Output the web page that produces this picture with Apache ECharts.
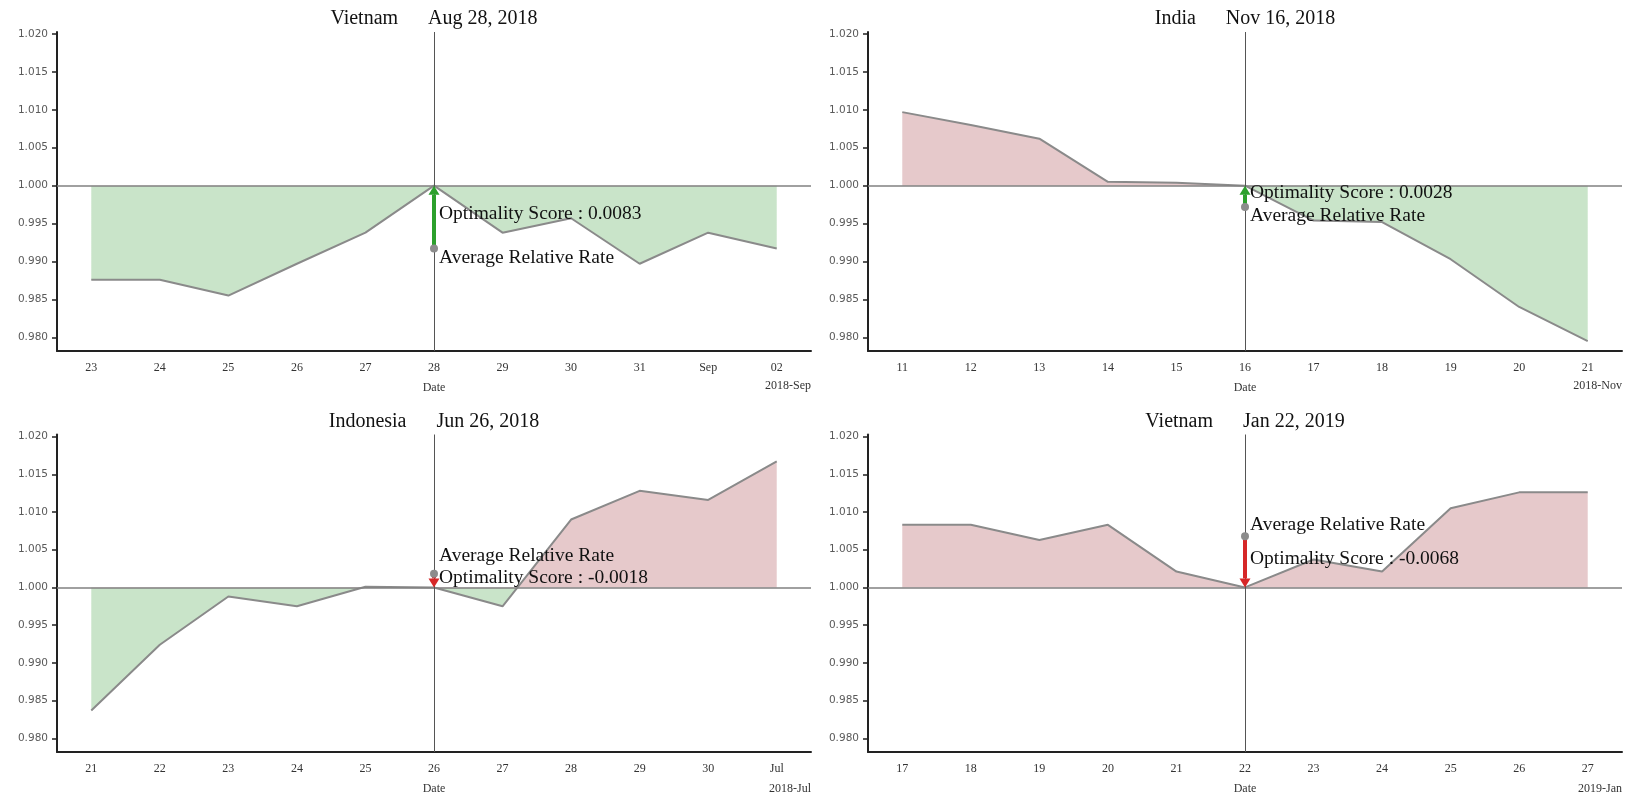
<!DOCTYPE html>
<html>
<head>
<meta charset="utf-8">
<script src="https://cdn.jsdelivr.net/npm/echarts@6/dist/echarts.min.js"></script>
<style>
  html, body { margin: 0; padding: 0; background: #ffffff; }
  #chart { width: 1630px; height: 796px; }
</style>
</head>
<body>
<div id="chart"></div>
<script>
// Relative exchange rate around each event date (event date = 1.000)
const vnAugDates = ['23', '24', '25', '26', '27', '28', '29', '30', '31', 'Sep', '02'];
const vnAugRates = [0.9876, 0.9876, 0.9855, 0.9897, 0.9938, 1.0000, 0.9938, 0.9957, 0.9897, 0.9938, 0.9917];

const inNovDates = ['11', '12', '13', '14', '15', '16', '17', '18', '19', '20', '21'];
const inNovRates = [1.0097, 1.0080, 1.0062, 1.0005, 1.0004, 1.0000, 0.9954, 0.9952, 0.9903, 0.9840, 0.9795];

const idJunDates = ['21', '22', '23', '24', '25', '26', '27', '28', '29', '30', 'Jul'];
const idJunRates = [0.9837, 0.9924, 0.9988, 0.9975, 1.0001, 1.0000, 0.9975, 1.0090, 1.0128, 1.0116, 1.0167];

const vnJanDates = ['17', '18', '19', '20', '21', '22', '23', '24', '25', '26', '27'];
const vnJanRates = [1.0083, 1.0083, 1.0063, 1.0083, 1.0021, 1.0000, 1.0037, 1.0021, 1.0105, 1.0126, 1.0126];

const countries = ['Vietnam', 'India', 'Indonesia', 'Vietnam'];
const eventTitles = ['Aug 28, 2018', 'Nov 16, 2018', 'Jun 26, 2018', 'Jan 22, 2019'];
const eventDates = ['28', '16', '26', '22'];
const periodLabels = ['2018-Sep', '2018-Nov', '2018-Jul', '2019-Jan'];
const optimalityScores = [0.0083, 0.0028, -0.0018, -0.0068];
const yTicks = [0.980, 0.985, 0.990, 0.995, 1.000, 1.005, 1.010, 1.015, 1.020];

const panelDates = [vnAugDates, inNovDates, idJunDates, vnJanDates];
const panelRates = [vnAugRates, inNovRates, idJunRates, vnJanRates];

const SERIF = '"Liberation Serif", "DejaVu Serif", serif';
const SANS = '"DejaVu Sans", "Liberation Sans", sans-serif';
const FILL_BELOW = '#c9e4c9';
const FILL_ABOVE = '#e6c9cb';
const ARROW_UP = '#2ca02c';
const ARROW_DOWN = '#d62728';
const Y_MIN = 0.97819;
const Y_MAX = 1.02027;
const BASELINE = 1;

// 2 x 2 layout of plot areas
const gridBoxes = [
  { left: 57, top: 32, width: 754, height: 319 },
  { left: 868, top: 32, width: 754, height: 319 },
  { left: 57, top: 434.5, width: 754, height: 319 },
  { left: 868, top: 434.5, width: 754, height: 319 }
];

const grids = [], xAxes = [], yAxes = [], series = [], graphics = [];

gridBoxes.forEach((g, i) => {
  grids.push({ left: g.left, top: g.top, width: g.width, height: g.height, containLabel: false });

  xAxes.push({
    type: 'category',
    gridIndex: i,
    data: panelDates[i],
    boundaryGap: true,
    name: 'Date',
    nameLocation: 'middle',
    nameGap: 31,
    nameTextStyle: { fontFamily: SERIF, fontSize: 12, color: '#333' },
    axisLine: { onZero: false, lineStyle: { color: '#222', width: 2 } },
    axisTick: { alignWithLabel: true, length: 5, lineStyle: { color: '#222', width: 1.5 } },
    axisLabel: { interval: 0, margin: 11, fontFamily: SERIF, fontSize: 12, color: '#333' },
    splitLine: { show: false }
  });

  yAxes.push({
    type: 'value',
    gridIndex: i,
    min: Y_MIN,
    max: Y_MAX,
    axisLine: { show: true, lineStyle: { color: '#222', width: 2 } },
    axisTick: { show: true, length: 5, customValues: yTicks, lineStyle: { color: '#222', width: 1.5 } },
    axisLabel: {
      customValues: yTicks,
      margin: 9,
      fontFamily: SANS,
      fontSize: 10.5,
      color: '#5a5a5a',
      formatter: v => v.toFixed(3)
    },
    splitLine: { show: false }
  });

  // fill colour switches at the 1.000 baseline: above -> pink, below -> green
  const split = (Y_MAX - BASELINE) / (Y_MAX - Y_MIN);
  const fill = new echarts.graphic.LinearGradient(0, g.top, 0, g.top + g.height, [
    { offset: 0, color: FILL_ABOVE },
    { offset: split, color: FILL_ABOVE },
    { offset: split, color: FILL_BELOW },
    { offset: 1, color: FILL_BELOW }
  ], true);

  // relative-rate curve, filled against the baseline
  series.push({
    type: 'line',
    xAxisIndex: i,
    yAxisIndex: i,
    data: panelRates[i],
    symbol: 'none',
    lineStyle: { color: '#8a8a8a', width: 2 },
    areaStyle: { origin: BASELINE, opacity: 1, color: fill },
    z: 2,
    silent: true,
    markLine: {
      silent: true,
      symbol: ['none', 'none'],
      label: { show: false },
      z: 3,
      data: [
        { yAxis: BASELINE, lineStyle: { color: '#808080', width: 1.5, type: 'solid' } },
        { xAxis: eventDates[i], lineStyle: { color: '#555', width: 1, type: 'solid' } }
      ]
    }
  });

  const centerX = g.left + g.width / 2;
  graphics.push({
    type: 'text',
    x: centerX,
    y: g.top - 13,
    style: {
      text: countries[i] + '\u00a0\u00a0\u00a0\u00a0\u00a0\u00a0' + eventTitles[i],
      font: '20px ' + SERIF,
      fill: '#111',
      align: 'center',
      verticalAlign: 'middle'
    }
  });
  graphics.push({
    type: 'text',
    x: g.left + g.width,
    y: g.top + g.height + 35,
    style: {
      text: periodLabels[i],
      font: '12px ' + SERIF,
      fill: '#333',
      align: 'right',
      verticalAlign: 'middle'
    }
  });
});

// optimality arrow + labels at each event date
gridBoxes.forEach((g, i) => {
  const score = optimalityScores[i];
  const eventIdx = panelDates[i].indexOf(eventDates[i]);
  series.push({
    type: 'custom',
    coordinateSystem: 'cartesian2d',
    xAxisIndex: i,
    yAxisIndex: i,
    silent: true,
    z: 6,
    data: [[eventIdx, BASELINE - score, score]],
    renderItem: function (params, api) {
      const idx = api.value(0);
      const avg = api.value(1);
      const sc = api.value(2);
      const p0 = api.coord([idx, avg]);
      const p1 = api.coord([idx, BASELINE]);
      const up = p1[1] < p0[1];
      const dir = up ? -1 : 1;
      const headLen = 9, headHalf = 5.5;
      const color = sc >= 0 ? ARROW_UP : ARROW_DOWN;
      const neck = p1[1] - dir * headLen;
      const midY = (p0[1] + p1[1]) / 2 - 3;
      let avgY = up ? p0[1] + 9 : p0[1] - 11;
      if (Math.abs(avgY - midY) < 22) avgY = up ? midY + 22 : midY - 22;
      const font = '19.5px ' + SERIF;
      return {
        type: 'group',
        children: [
          { type: 'line', shape: { x1: p0[0], y1: p0[1], x2: p1[0], y2: neck }, style: { stroke: color, lineWidth: 4 } },
          { type: 'polygon', shape: { points: [[p1[0], p1[1]], [p1[0] - headHalf, neck], [p1[0] + headHalf, neck]] }, style: { fill: color } },
          { type: 'circle', shape: { cx: p0[0], cy: p0[1], r: 4 }, style: { fill: '#8c8c8c' } },
          { type: 'text', x: p0[0] + 5, y: midY, style: { text: 'Optimality Score : ' + sc.toFixed(4), font: font, fill: '#111', verticalAlign: 'middle', align: 'left' } },
          { type: 'text', x: p0[0] + 5, y: avgY, style: { text: 'Average Relative Rate', font: font, fill: '#111', verticalAlign: 'middle', align: 'left' } }
        ]
      };
    }
  });
});

const chart = echarts.init(document.getElementById('chart'), null, { renderer: 'canvas' });
chart.setOption({
  backgroundColor: '#ffffff',
  animation: false,
  grid: grids,
  xAxis: xAxes,
  yAxis: yAxes,
  series: series,
  graphic: graphics
});
</script>
</body>
</html>
